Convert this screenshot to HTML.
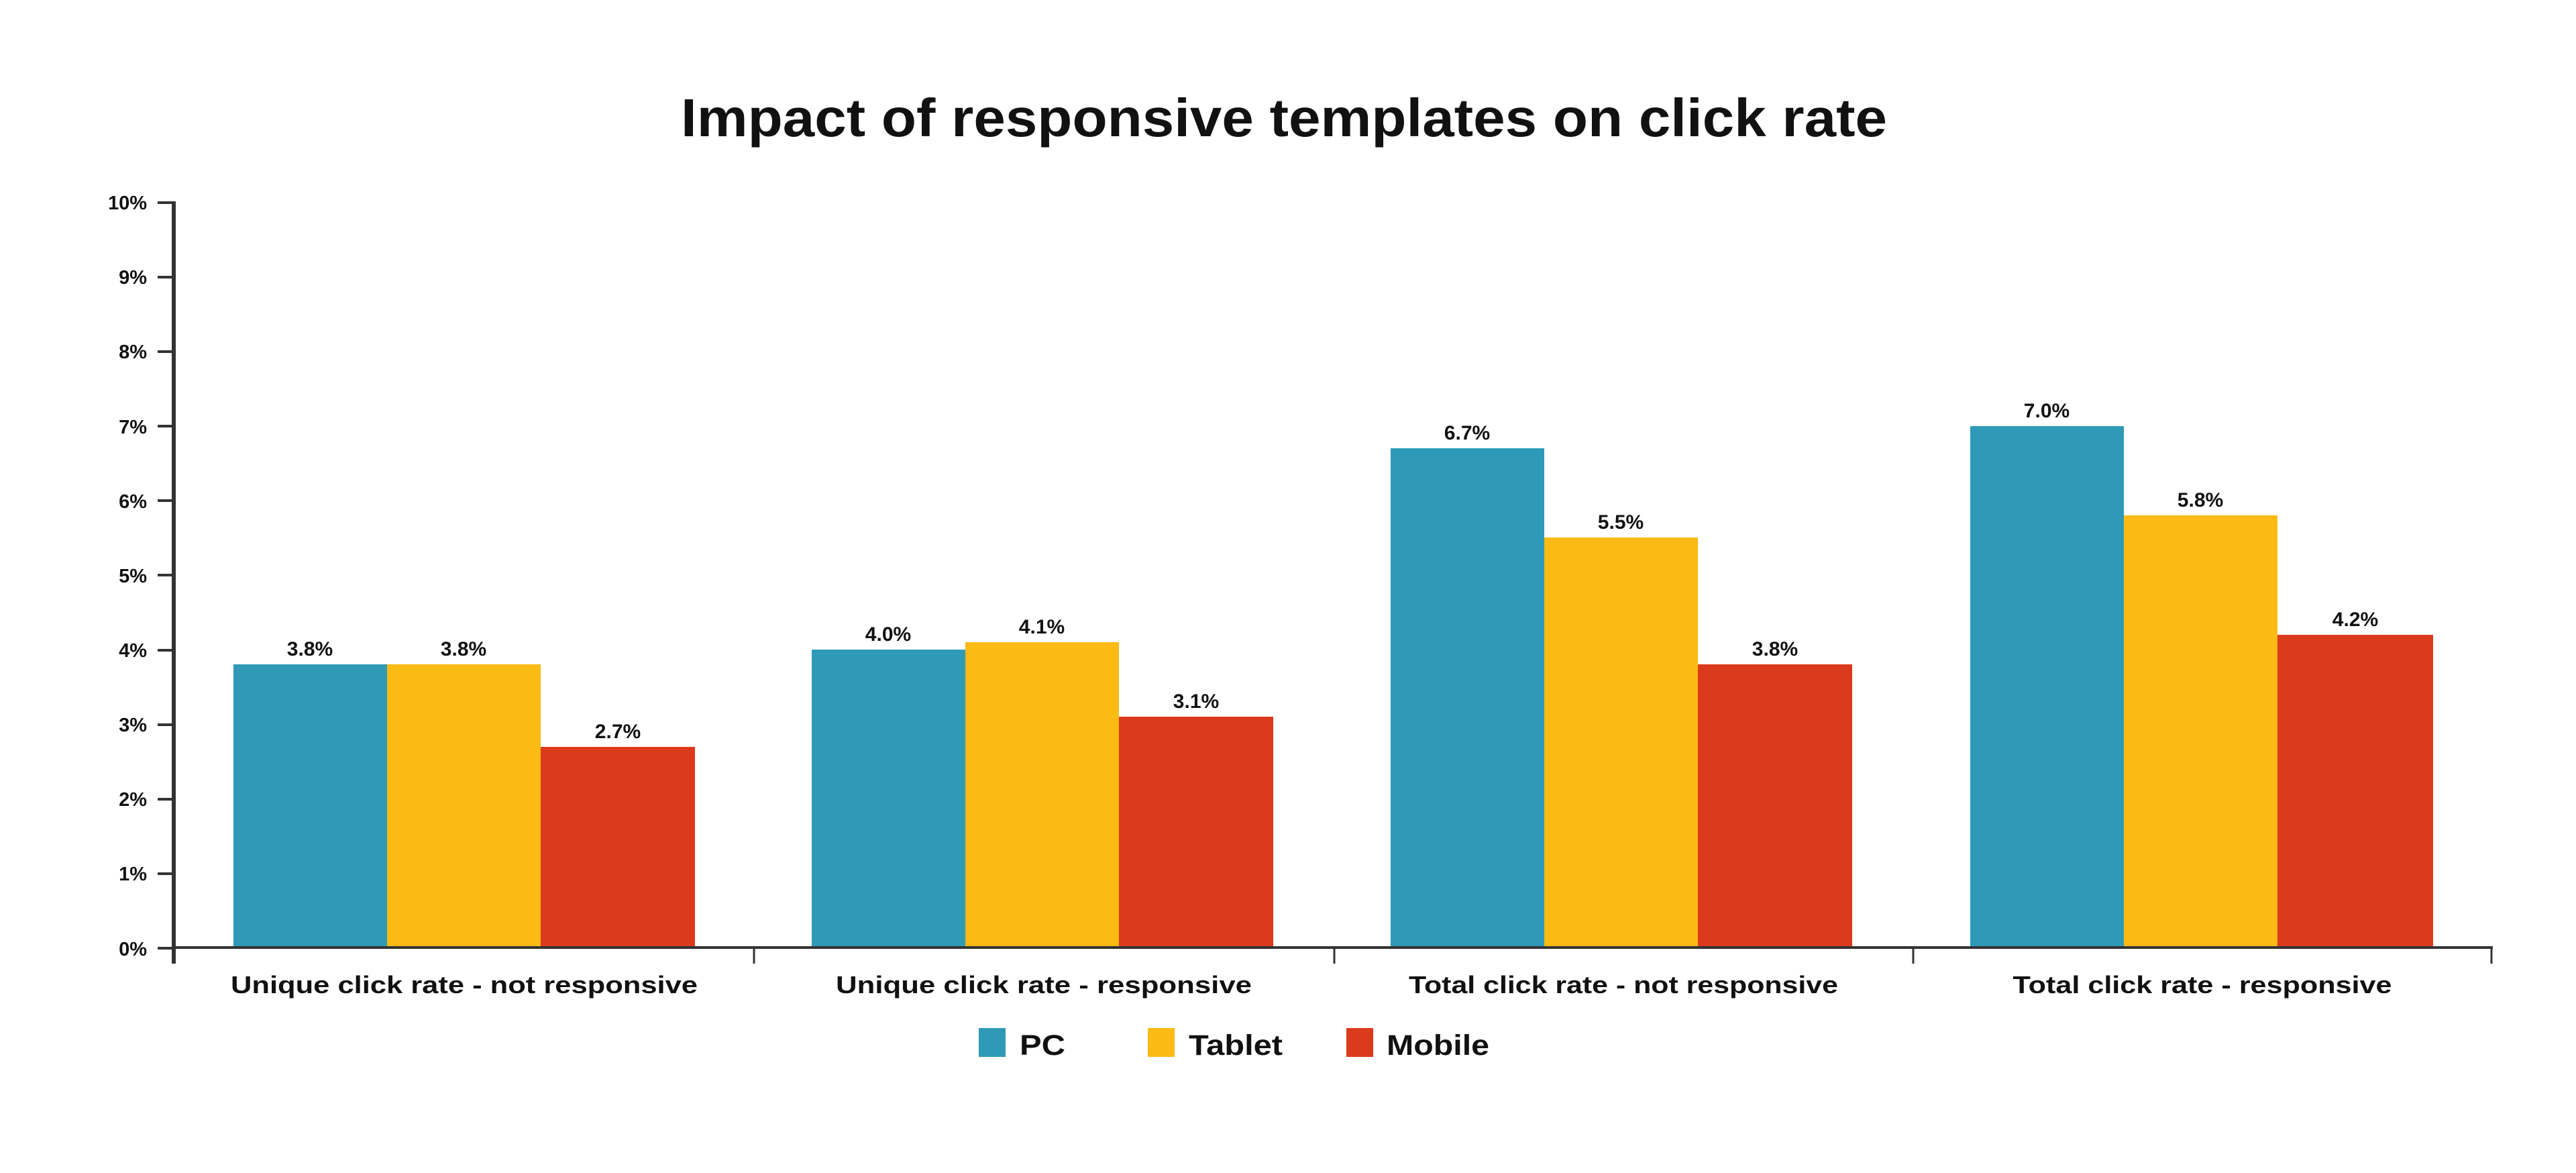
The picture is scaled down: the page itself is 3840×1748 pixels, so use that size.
<!DOCTYPE html>
<html><head><meta charset="utf-8"><style>html,body{margin:0;padding:0;background:#fff}svg{display:block}text{font-family:"Liberation Sans",sans-serif;font-weight:bold;fill:#111}</style></head>
<body>
<svg width="3840" height="1748" viewBox="0 0 3840 1748">
<rect width="3840" height="1748" fill="#fff"/>
<text x="1015" y="203" font-size="80" textLength="1798" lengthAdjust="spacingAndGlyphs">Impact of responsive templates on click rate</text>
<g font-size="29" text-anchor="end">
<text x="219" y="312">10%</text>
<text x="219" y="423">9%</text><text x="219" y="534">8%</text><text x="219" y="646">7%</text>
<text x="219" y="757">6%</text><text x="219" y="868">5%</text><text x="219" y="979">4%</text>
<text x="219" y="1090">3%</text><text x="219" y="1201">2%</text><text x="219" y="1312">1%</text>
<text x="219" y="1424">0%</text>
</g>
<g stroke="#333" stroke-width="4">
<line x1="235" y1="302" x2="259" y2="302"/><line x1="235" y1="413" x2="259" y2="413"/>
<line x1="235" y1="524" x2="259" y2="524"/><line x1="235" y1="635" x2="259" y2="635"/>
<line x1="235" y1="746" x2="259" y2="746"/><line x1="235" y1="857" x2="259" y2="857"/>
<line x1="235" y1="969" x2="259" y2="969"/><line x1="235" y1="1080" x2="259" y2="1080"/>
<line x1="235" y1="1191" x2="259" y2="1191"/><line x1="235" y1="1302" x2="259" y2="1302"/>
<line x1="235" y1="1413" x2="259" y2="1413"/>
</g>
<g>
<rect x="348" y="990" width="229" height="423" fill="#2E9AB7"/>
<rect x="577" y="990" width="229" height="423" fill="#FBBA14"/>
<rect x="806" y="1113" width="230" height="300" fill="#DC3A1C"/>
<rect x="1210" y="968" width="229" height="445" fill="#2E9AB7"/>
<rect x="1439" y="957" width="229" height="456" fill="#FBBA14"/>
<rect x="1668" y="1068" width="230" height="345" fill="#DC3A1C"/>
<rect x="2073" y="668" width="229" height="745" fill="#2E9AB7"/>
<rect x="2302" y="801" width="229" height="612" fill="#FBBA14"/>
<rect x="2531" y="990" width="230" height="423" fill="#DC3A1C"/>
<rect x="2937" y="635" width="229" height="778" fill="#2E9AB7"/>
<rect x="3166" y="768" width="229" height="645" fill="#FBBA14"/>
<rect x="3395" y="946" width="232" height="467" fill="#DC3A1C"/>
</g>
<g font-size="30" text-anchor="middle">
<text x="462" y="977">3.8%</text><text x="691" y="977">3.8%</text><text x="921" y="1100">2.7%</text>
<text x="1324" y="955">4.0%</text><text x="1553" y="944">4.1%</text><text x="1783" y="1055">3.1%</text>
<text x="2187" y="655">6.7%</text><text x="2416" y="788">5.5%</text><text x="2646" y="977">3.8%</text>
<text x="3051" y="622">7.0%</text><text x="3280" y="755">5.8%</text><text x="3511" y="933">4.2%</text>
</g>
<g stroke="#333">
<line x1="259" y1="300" x2="259" y2="1436" stroke-width="6"/>
<line x1="256" y1="1412" x2="3716" y2="1412" stroke-width="4"/>
<line x1="1124" y1="1412" x2="1124" y2="1436" stroke-width="3"/>
<line x1="1989" y1="1412" x2="1989" y2="1436" stroke-width="3"/>
<line x1="2852" y1="1412" x2="2852" y2="1436" stroke-width="3"/>
<line x1="3714" y1="1412" x2="3714" y2="1436" stroke-width="3"/>
</g>
<g font-size="36" text-anchor="middle">
<text x="692" y="1480" textLength="696" lengthAdjust="spacingAndGlyphs">Unique click rate - not responsive</text>
<text x="1556" y="1480" textLength="620" lengthAdjust="spacingAndGlyphs">Unique click rate - responsive</text>
<text x="2420" y="1480" textLength="640" lengthAdjust="spacingAndGlyphs">Total click rate - not responsive</text>
<text x="3283" y="1480" textLength="565" lengthAdjust="spacingAndGlyphs">Total click rate - responsive</text>
</g>
<rect x="1459" y="1532" width="40" height="43" fill="#2E9AB7"/>
<rect x="1711" y="1532" width="40" height="43" fill="#FBBA14"/>
<rect x="2007" y="1532" width="40" height="43" fill="#DC3A1C"/>
<g font-size="43">
<text x="1520" y="1572" textLength="68" lengthAdjust="spacingAndGlyphs">PC</text>
<text x="1772" y="1572" textLength="140" lengthAdjust="spacingAndGlyphs">Tablet</text>
<text x="2067" y="1572" textLength="153" lengthAdjust="spacingAndGlyphs">Mobile</text>
</g>
</svg>
</body></html>
